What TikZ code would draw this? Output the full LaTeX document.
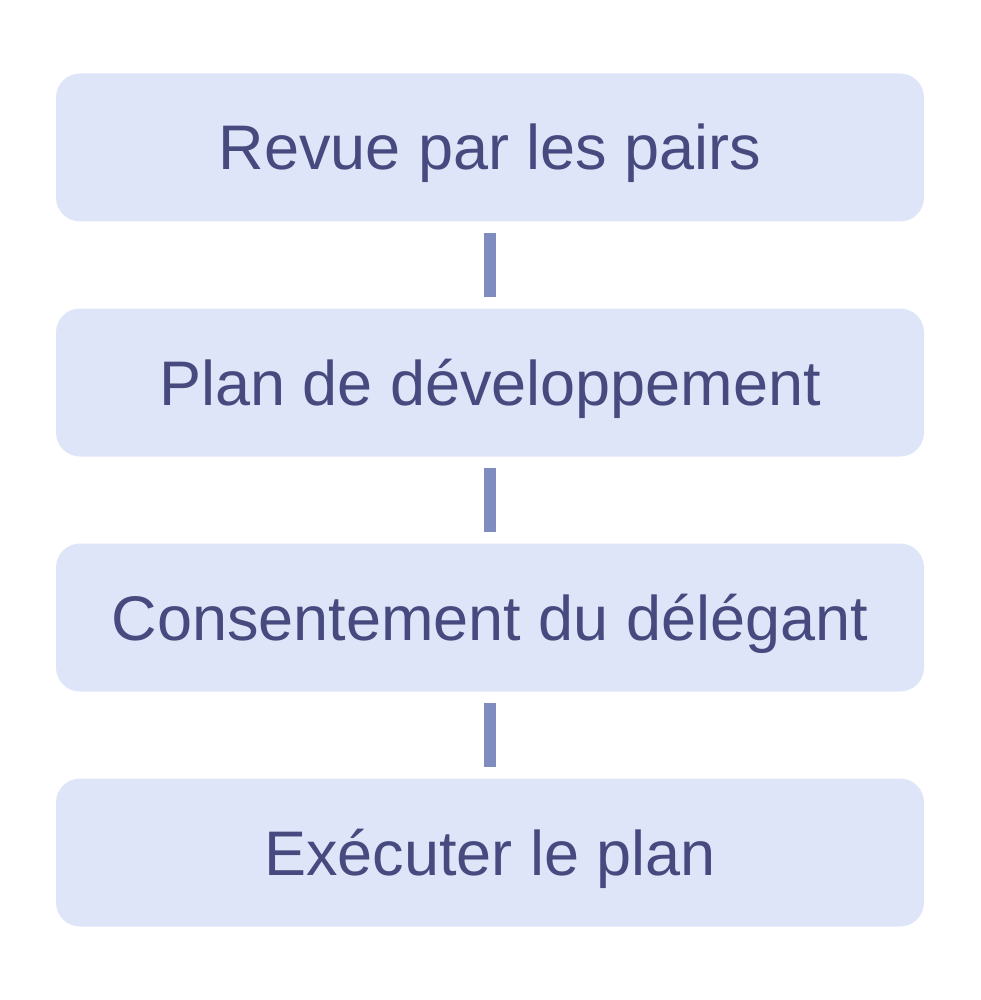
\documentclass[tikz,border=0pt]{standalone}
\usepackage{fontspec}
\setmainfont{Liberation Sans}
\definecolor{boxfill}{HTML}{DFE5F8}
\definecolor{boxtext}{HTML}{464A7E}
\definecolor{conn}{HTML}{7F8CC0}
\begin{document}
\begin{tikzpicture}[x=1pt,y=1pt,
  stepbox/.style={fill=boxfill, draw=none, rounded corners=24pt, minimum width=868pt, minimum height=148pt, inner sep=0pt, text=boxtext, text height=50pt, text depth=5pt, font=\fontsize{63}{70}\selectfont},
  link/.style={draw=conn, line width=12pt}]
\useasboundingbox (0,0) rectangle (980,-1000);
\node[stepbox] (a) at (490,-147.5) {Revue par les pairs};
\node[stepbox] (b) at (490,-382.5) {Plan de développement};
\node[stepbox] (c) at (490,-617.5) {Consentement du délégant};
\node[stepbox] (d) at (490,-852.5) {Exécuter le plan};
\draw[link] ([yshift=-11pt]a.south) -- ([yshift=11pt]b.north);
\draw[link] ([yshift=-11pt]b.south) -- ([yshift=11pt]c.north);
\draw[link] ([yshift=-11pt]c.south) -- ([yshift=11pt]d.north);
\end{tikzpicture}
\end{document}
